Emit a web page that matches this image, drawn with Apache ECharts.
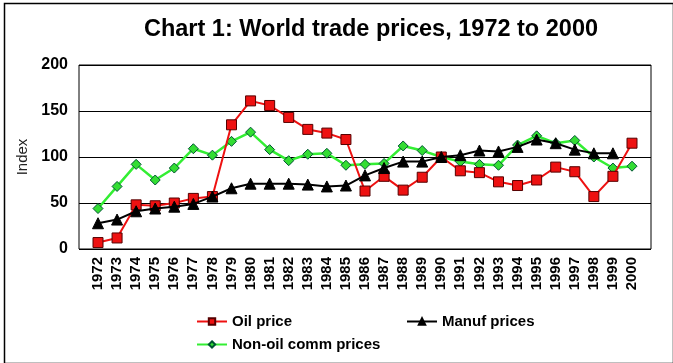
<!DOCTYPE html>
<html>
<head>
<meta charset="utf-8">
<script src="https://cdn.jsdelivr.net/npm/echarts@6/dist/echarts.min.js"></script>
<style>html,body{margin:0;padding:0;background:#fff;}#c{width:673px;height:363px;}</style>
</head>
<body>
<div id="c"></div>
<script>
var years = ['1972','1973','1974','1975','1976','1977','1978','1979','1980','1981','1982','1983','1984','1985','1986','1987','1988','1989','1990','1991','1992','1993','1994','1995','1996','1997','1998','1999','2000'];
var oilPrice = [7,12,48,47,50,55,57,135,161,156,143,130,126,119,63,79,64,78,100,85,83,73,69,75,89,84,57,79,115];
var manufPrices = [28,32,41,44,46,49,57,66,71,71,71,70,68,69,80,88,95,95,100,102,107,106,111,119,115,108,104,104,null];
var nonOilPrices = [44,68,92,75,88,109,102,117,127,108,96,103,104,91,92,93,112,107,100,95,92,91,113,123,115,118,100,88,90];
var yTicks = [0,50,100,150,200];

var font = 'Arial, "Liberation Sans", sans-serif';
var chart = echarts.init(document.getElementById('c'), null, {renderer:'canvas'});
chart.setOption({
  animation: false,
  backgroundColor: '#fff',
  title: {
    text: 'Chart 1: World trade prices, 1972 to 2000',
    left: 366, top: 13, textAlign: 'center',
    textStyle: {fontFamily: font, fontSize: 23.5, fontWeight: 'bold', color: '#000'}
  },
  graphic: [{
    type: 'rect', left: 2, top: 1, shape: {x:0, y:0, width: 669, height: 360},
    style: {fill: null, stroke: '#000', lineWidth: 1.5}, silent: true, z: -1
  }],
  legend: [{
    data: ['Oil price', 'Non-oil comm prices'],
    orient: 'vertical', left: 191, top: 309, itemGap: 8,
    itemWidth: 30, itemHeight: 8,
    textStyle: {fontFamily: font, fontSize: 15, fontWeight: 'bold', color: '#000'}
  }, {
    data: ['Manuf prices'],
    orient: 'vertical', left: 401, top: 309, itemGap: 8,
    itemWidth: 30, itemHeight: 8,
    textStyle: {fontFamily: font, fontSize: 15, fontWeight: 'bold', color: '#000'}
  }],
  grid: [
    {left: 79, top: 65, width: 572, height: 184, show: true, borderColor: '#000', borderWidth: 1, backgroundColor: '#fff'},
    {left: 98, top: 65, width: 534, height: 184}
  ],
  xAxis: [
    {gridIndex: 0, type: 'value', min: 0, max: 1, show: false},
    {gridIndex: 1, type: 'category', data: years, boundaryGap: false,
     axisLine: {show: false}, axisTick: {show: false},
     axisLabel: {rotate: 90, margin: 8, interval: 0, fontFamily: font, fontSize: 15, fontWeight: 'bold', color: '#000'}}
  ],
  yAxis: [
    {gridIndex: 0, type: 'value', min: yTicks[0], max: yTicks[yTicks.length-1], interval: 50,
     name: 'Index', nameLocation: 'middle', nameGap: 41, nameRotate: 90,
     nameTextStyle: {fontFamily: font, fontSize: 15, color: '#222'},
     axisLine: {show: false}, axisTick: {show: false},
     axisLabel: {margin: 11, fontFamily: font, fontSize: 16, fontWeight: 'bold', color: '#000'},
     splitLine: {show: true, lineStyle: {color: '#000', width: 1}}},
    {gridIndex: 1, type: 'value', min: 0, max: 200, show: false, splitLine: {show: false}}
  ],
  series: [
    {name: 'Oil price', type: 'line', xAxisIndex: 1, yAxisIndex: 1, data: oilPrice,
     symbol: 'rect', symbolSize: 10, color: '#ee1111',
     lineStyle: {color: '#ee1111', width: 2},
     itemStyle: {color: '#ee1111', borderColor: '#500', borderWidth: 1}, z: 3},
    {name: 'Manuf prices', type: 'line', xAxisIndex: 1, yAxisIndex: 1, data: manufPrices,
     symbol: 'triangle', symbolSize: 11, color: '#000',
     lineStyle: {color: '#000', width: 2},
     itemStyle: {color: '#000', borderColor: '#000', borderWidth: 1}, z: 4},
    {name: 'Non-oil comm prices', type: 'line', xAxisIndex: 1, yAxisIndex: 1, data: nonOilPrices,
     symbol: 'diamond', symbolSize: 10, color: '#33ee33',
     lineStyle: {color: '#33ee33', width: 2.5},
     itemStyle: {color: '#33dd33', borderColor: '#053', borderWidth: 1}, z: 2}
  ]
});
</script>
</body>
</html>
